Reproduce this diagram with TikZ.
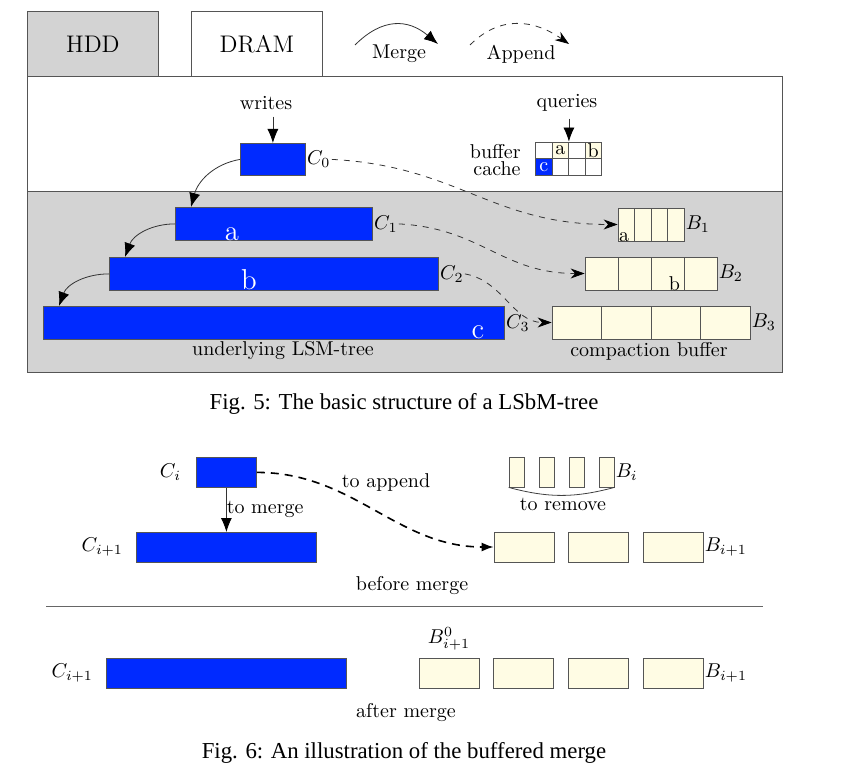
\documentclass[tikz,border=0pt]{standalone}
\usepackage{fontspec}
\usepackage{tikz}
\usetikzlibrary{arrows.meta}
\newfontfamily\capfont{Liberation Serif}
\definecolor{lsmblue}{RGB}{0,42,255}
\definecolor{bufyellow}{RGB}{255,252,228}
\definecolor{hddgray}{RGB}{211,211,211}
\definecolor{edgegray}{RGB}{85,85,85}
\tikzset{
  comp/.style={draw=edgegray,fill=lsmblue,inner sep=0pt,minimum height=16.5pt,anchor=north west},
  bufcell/.style={draw=edgegray,fill=bufyellow,inner sep=0pt,minimum height=16.5pt},
  smallbuf/.style={bufcell,minimum width=30pt,minimum height=15pt},
  gridcell/.style={draw=edgegray,inner sep=0pt,minimum width=8.25pt,minimum height=8.25pt},
  layerbox/.style={draw=edgegray,inner sep=0pt,minimum width=65.5pt,minimum height=32.5pt,anchor=north west,font=\large},
  clabel/.style={anchor=west,inner sep=0.5pt},
  letter/.style={white,font=\Large,anchor=base,inner sep=0pt},
  caption/.style={font=\capfont\fontsize{11.4}{13.7}\selectfont},
  mergearrow/.style={draw=black!80,-{Latex[length=7pt,width=5.5pt,color=black]}},
  appendarrow/.style={draw=black!80,dashed,-{Stealth[length=7pt,width=5pt,color=black]}},
  bigappend/.style={thick,dash pattern=on 4pt off 3pt,-{Latex[length=6pt,width=4.5pt]}}
}

\begin{document}
\begin{tikzpicture}[x=0.5pt,y=-0.5pt]
\useasboundingbox (0,0) rectangle (856,780);

% legend
\node[layerbox,fill=hddgray] (hdd) at (27,11) {HDD};
\node[layerbox,fill=white] (dram) at (191,11) {DRAM};
\coordinate (mg-s) at (355,45);
\coordinate (mg-e) at (438,44);
\draw[mergearrow] (mg-s) to[out=45,in=140,looseness=1.2] (mg-e);
\node (mg-lbl) at (399,54) {Merge};
\coordinate (ap-s) at (470,45);
\coordinate (ap-e) at (569,44);
\draw[appendarrow] (ap-s) to[out=45,in=145,looseness=1.1] (ap-e);
\node (ap-lbl) at (521,54) {Append};

% the two layers
\draw[draw=edgegray,fill=white] (27,76) rectangle (782,191);
\draw[draw=edgegray,fill=hddgray] (27,191) rectangle (782,372);

% LSM-tree components
\node[comp,minimum width=32.5pt,minimum height=16pt] (c0) at (240,143) {};
\node[comp,minimum width=98.5pt] (c1) at (175,207) {};
\node[comp,minimum width=164.5pt] (c2) at (109,257) {};
\node[comp,minimum width=230.5pt] (c3) at (43,306) {};
\foreach \k in {0,...,3}
  \node[clabel] (c\k-lbl) at (c\k.east) {$C_\k$};
\node[letter] (c1-a) at (232,241) {a};
\node[letter] (c2-b) at (249,290) {b};
\node[letter] (c3-c) at (478,339) {c};
\node (lsm-lbl) at (283,351) {underlying LSM-tree};

\node (writes) at (266,103) {writes};
\draw[mergearrow] (c0.north |- writes.south) -- (c0.north);

\draw[mergearrow] (c0.west) to[out=190,in=75] ([xshift=8pt]c1.north west);
\draw[mergearrow] (c1.west) to[out=180,in=70] ([xshift=8pt]c2.north west);
\draw[mergearrow] (c2.west) to[out=180,in=70] ([xshift=8pt]c3.north west);

% buffer cache
\foreach \r/\c/\f/\t/\tc in {1/1/white//black,1/2/bufyellow/a/black,1/3/white//black,1/4/bufyellow/b/black,
                         2/1/lsmblue/c/white,2/2/white//black,2/3/white//black,2/4/white//black}
  \node[gridcell,fill=\f,text=\tc] (bc-\r-\c) at ({535.5+16.5*(\c-0.5)},{142+16.5*(\r-0.5)}) {\t};
\node[anchor=east,inner sep=0pt] (bc-lbl1) at (521,152) {buffer};
\node[anchor=east,inner sep=0pt] (bc-lbl2) at (521,169) {cache};
\node (queries) at (567,103) {queries};
\draw[mergearrow] (bc-1-2.north east |- queries.south) -- (bc-1-2.north east);

% compaction buffer
\foreach \k/\x/\y/\w in {1/618/208/16.5,2/585/257/33,3/552/306/49.5}{
  \foreach \i in {1,...,4}
    \node[bufcell,minimum width=\w*0.5pt] (b\k-\i) at ({\x+\w*(\i-0.5)},{\y+16.5}) {};
  \node[clabel] (b\k-lbl) at (b\k-4.east) {$B_\k$};
}
\node[anchor=base west,inner sep=0.5pt] (b1-a) at (b1-1.south west) {a};
\node[anchor=base east,inner sep=0pt,xshift=-2pt] (b2-b) at (b2-3.south east) {b};
\node (cb-lbl) at (649,351) {compaction buffer};

\draw[appendarrow] (c0-lbl.east) to[out=-3,in=180,looseness=1.1] (b1-1.west);
\draw[appendarrow] (c1-lbl.east) to[out=-3,in=180,looseness=1.1] (b2-1.west);
\draw[appendarrow] (c2-lbl.east) to[out=-10,in=180] (b3-1.west);

\node[caption] (cap5) at (404,404) {Fig. 5: The basic structure of a LSbM-tree};

% buffered merge, before
\node[comp,minimum width=30pt,minimum height=15pt] (ci) at (196,457) {};
\node[comp,minimum width=90pt,minimum height=15pt] (cii) at (136,532) {};
\node[left=4pt] (ci-lbl) at (ci.west) {$C_i$};
\node[left=3pt] (cii-lbl) at (cii.west) {$C_{i+1}$};
\draw[mergearrow] (ci.south) -- (ci.south |- cii.north) node[pos=0.5,anchor=west,inner sep=0pt] (tomerge) {to merge};

\foreach \i in {1,...,4}
  \node[bufcell,minimum width=7.5pt,minimum height=15pt] (bi-\i) at ({516.5+30*(\i-1)},472) {};
\node[clabel] (bi-lbl) at (bi-4.east) {$B_i$};
\draw[draw=black!75] (bi-1.south west) to[out=-15,in=195] (bi-4.south east);
\node (remove-lbl) at (563,504) {to remove};

\foreach \i in {1,...,3}
  \node[smallbuf] (bb-\i) at ({524+74.5*(\i-1)},547) {};
\node[clabel] (bb-lbl) at (bb-3.east) {$B_{i+1}$};

\draw[bigappend] (ci.east) to[out=0,in=180] (bb-1.west);
\node (append-lbl) at (386,482) {to append};
\node (before-lbl) at (412,586) {before merge};

\draw[draw=black!60] (46,606) -- (763,606);

% buffered merge, after
\node[comp,minimum width=120pt,minimum height=15pt] (ca) at (106,658) {};
\node[left=3pt] (ca-lbl) at (ca.west) {$C_{i+1}$};
\foreach \i in {1,...,4}
  \node[smallbuf] (ba-\i) at ({449+74.7*(\i-1)},673) {};
\node[above=0pt] (ba0-lbl) at (ba-1.north) {$B^0_{i+1}$};
\node[clabel] (ba-lbl) at (ba-4.east) {$B_{i+1}$};
\node (after-lbl) at (406,713) {after merge};

\node[caption] (cap6) at (404,753) {Fig. 6: An illustration of the buffered merge};
\end{tikzpicture}
\end{document}
